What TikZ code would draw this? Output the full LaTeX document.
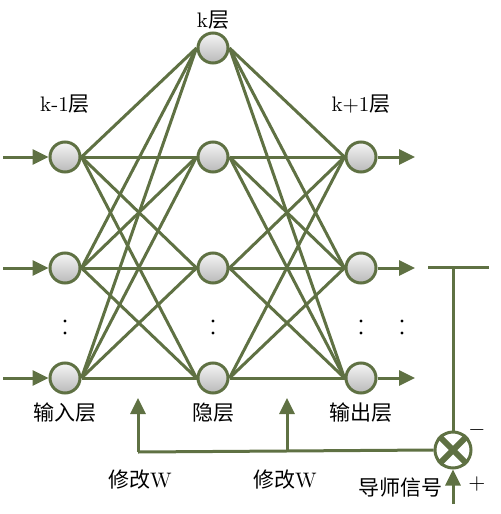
\documentclass[tikz,border=0pt]{standalone}
\usepackage{fontspec}
\newfontfamily\cjk{Noto Sans CJK SC}
\usetikzlibrary{arrows.meta}
\definecolor{netgreen}{HTML}{5F7143}

\begin{document}
\begin{tikzpicture}[x=0.5pt,y=-0.5pt,
  neuron/.style={circle,draw=netgreen,line width=1.5pt,minimum size=15pt,inner sep=0pt,
    top color=gray!8,bottom color=gray!55},
  link/.style={draw=netgreen,line width=1.5pt},
  tip/.style={-{Triangle[length=8pt,width=7.5pt]}},
  lab/.style={font=\fontsize{10.5}{11}\selectfont,inner sep=0pt}]
\useasboundingbox (0,0) rectangle (500,514);

% neurons
\node[neuron] (h1) at (213,48) {};
\foreach \n/\y in {1/157, 2/268, 3/378} {
  \pgfmathtruncatemacro{\m}{\n+1}
  \node[neuron] (i\n) at (65,\y) {};
  \node[neuron] (h\m) at (213,\y) {};
  \node[neuron] (o\n) at (361,\y) {};
  \coordinate (in\n) at (3,\y);
  \coordinate (out\n) at (415,\y);
  \draw[link,tip] (in\n) -- (i\n.west);
  \draw[link,tip] (o\n.east) -- (out\n);
}

% full connections
\foreach \a in {1,2,3} {
  \foreach \b in {1,2,3,4} {
    \draw[link] (i\a.east) -- (h\b.west);
    \draw[link] (h\b.east) -- (o\a.west);
  }
}

% dots
\foreach \x in {65, 213, 361, 402} {
  \fill (\x,321) circle[radius=1.6];
  \fill (\x,333) circle[radius=1.6];
}

% labels
\node[lab] (lk) at (213,20) {k{\cjk 层}};
\node[lab] (lkm) at (65,104) {k-1{\cjk 层}};
\node[lab] (lkp) at (361,104) {k+1{\cjk 层}};
\node[lab,font=\cjk\fontsize{10.5}{11}\selectfont] (lin) at (65,413) {输入层};
\node[lab,font=\cjk\fontsize{10.5}{11}\selectfont] (lhid) at (213,413) {隐层};
\node[lab,font=\cjk\fontsize{10.5}{11}\selectfont] (lout) at (361,413) {输出层};

% error and feedback
\node[circle,draw=netgreen,line width=1.5pt,fill=white,minimum size=18pt,inner sep=0pt] (sum) at (453,450) {};
\draw[netgreen,line width=3pt] (sum.45) -- (sum.225) (sum.135) -- (sum.315);
\coordinate (bar1) at (428,267);
\coordinate (bar2) at (489,267);
\coordinate (bar3) at (453,267);
\draw[link] (bar1) -- (bar2);
\draw[link] (bar3) -- (sum.north);
\coordinate (fb1) at (138,452);
\coordinate (up1) at (138,398);
\coordinate (fb2) at (287,452);
\coordinate (up2) at (287,398);
\coordinate (teach) at (453,504);
\draw[link] (sum.west) -- (fb1);
\draw[link,tip] (fb1) -- (up1);
\draw[link,tip] (fb2) -- (up2);
\draw[link,tip] (teach) -- (sum.south);
\node[lab] (minus) at (477,430) {$-$};
\node[lab] (plus) at (477,484) {$+$};
\node[lab] (w1) at (140,480) {{\cjk 修改}W};
\node[lab] (w2) at (285,480) {{\cjk 修改}W};
\node[lab,font=\cjk\fontsize{10.5}{11}\selectfont] (sig) at (400,488) {导师信号};

\end{tikzpicture}
\end{document}
